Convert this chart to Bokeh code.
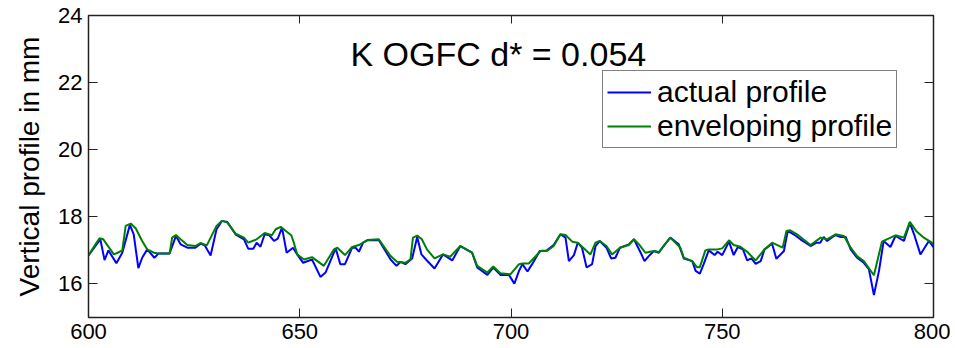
from bokeh.plotting import figure
from bokeh.models import LinearAxis, FixedTicker, Label, Range1d, CustomJSTickFormatter
from bokeh.embed import file_html
from bokeh.resources import INLINE

x_ticks = [600, 650, 700, 750, 800]
y_ticks = [16, 18, 20, 22, 24]

actual_x = [600.0, 602.8, 603.8, 604.7, 606.6, 608.0, 609.8, 610.7, 611.8, 612.7, 613.9, 615.6, 616.6,
            619.2, 620.7, 621.8, 623.4, 625.3, 626.5, 627.5, 628.9, 630.3, 631.6, 632.8, 634.8, 636.8,
            637.8, 639.0, 639.8, 640.7, 641.7, 642.8, 643.9, 644.8, 645.8, 646.9, 648.4, 649.4, 650.8,
            652.9, 654.9, 656.1, 658.5, 659.6, 660.7, 662.4, 663.2, 664.0, 665.0, 666.0, 668.7, 671.5,
            672.9, 673.9, 675.0, 676.6, 677.8, 678.8, 680.1, 681.9, 683.9, 686.1, 688.0, 690.8, 692.0,
            694.4, 695.8, 697.5, 699.5, 700.8, 701.9, 702.7, 703.9, 705.0, 706.8, 708.5, 710.1, 711.7,
            712.9, 713.7, 714.9, 715.8, 716.8, 717.9, 719.2, 720.0, 721.0, 722.6, 723.7, 724.7, 725.8,
            727.9, 729.1, 730.7, 731.6, 732.6, 733.8, 735.0, 736.1, 737.7, 739.7, 740.9, 742.9, 743.7,
            744.7, 745.6, 746.8, 748.2, 748.9, 750.0, 751.6, 752.7, 753.7, 754.9, 755.9, 756.9, 757.9,
            759.1, 760.0, 761.8, 762.8, 764.6, 765.5, 766.9, 768.5, 770.9, 772.3, 773.2, 774.0, 774.8,
            776.8, 778.0, 779.2, 780.4, 781.9, 783.5, 784.7, 785.9, 787.1, 788.2, 789.8, 791.0, 793.0,
            794.4, 795.4, 796.9, 798.9, 800.0]
actual_y = [16.85, 17.33, 16.71, 17.00, 16.62, 16.93, 17.76, 17.48, 16.47, 16.78, 17.03, 16.78, 16.91,
            16.91, 17.43, 17.18, 17.08, 17.08, 17.20, 17.15, 16.85, 17.63, 17.88, 17.85, 17.48, 17.33,
            17.05, 17.05, 17.23, 17.11, 17.48, 17.45, 17.28, 17.35, 17.68, 16.93, 17.08, 16.88, 16.63,
            16.73, 16.21, 16.34, 17.06, 16.59, 16.59, 17.08, 17.08, 16.96, 17.23, 17.30, 17.31, 16.73,
            16.54, 16.66, 16.59, 16.76, 17.40, 16.88, 16.70, 16.46, 16.88, 16.70, 17.13, 16.93, 16.49,
            16.27, 16.49, 16.27, 16.27, 16.01, 16.39, 16.59, 16.37, 16.59, 16.98, 17.00, 17.16, 17.48,
            17.38, 16.68, 16.86, 17.23, 17.08, 16.49, 16.59, 17.13, 17.28, 17.08, 16.76, 16.78, 17.08,
            17.18, 17.33, 16.93, 16.68, 16.83, 16.98, 16.93, 17.13, 17.38, 17.18, 16.76, 16.68, 16.39,
            16.31, 16.59, 17.00, 16.86, 16.96, 16.86, 17.26, 16.86, 17.10, 17.03, 16.70, 16.76, 16.60,
            16.68, 17.03, 17.20, 16.75, 16.98, 17.58, 17.48, 17.33, 17.13, 17.23, 17.23, 17.40, 17.28,
            17.46, 17.40, 17.40, 17.03, 16.78, 16.63, 16.44, 15.67, 16.39, 17.28, 17.10, 17.43, 17.28,
            17.82, 17.48, 16.88, 17.28, 17.10]

env_x = [600.0, 601.5, 602.6, 603.5, 604.5, 606.0, 606.9, 608.0, 608.8, 610.0, 611.2, 612.7, 613.9,
         615.5, 616.6, 619.2, 619.8, 620.7, 621.8, 623.4, 625.3, 626.5, 628.0, 630.3, 631.6, 632.9,
         634.8, 636.8, 637.8, 639.8, 641.7, 643.4, 644.3, 645.5, 646.7, 648.0, 648.6, 649.4, 651.0,
         652.9, 655.7, 658.1, 658.9, 660.7, 662.4, 664.0, 666.0, 668.7, 671.5, 673.0, 675.0, 676.2,
         676.8, 677.8, 678.9, 680.1, 681.9, 683.9, 685.6, 688.0, 690.8, 692.0, 694.4, 695.8, 697.5,
         699.9, 701.9, 702.7, 704.2, 707.0, 708.5, 710.1, 711.7, 712.9, 714.5, 715.8, 717.1, 718.8,
         720.0, 721.0, 722.6, 723.9, 725.8, 727.9, 729.1, 730.3, 731.8, 733.8, 735.0, 737.7, 740.1,
         740.9, 742.9, 744.0, 744.7, 746.0, 746.8, 748.9, 750.0, 751.6, 752.7, 754.3, 755.9, 757.9,
         760.0, 761.8, 764.3, 765.2, 766.1, 767.7, 770.9, 773.3, 774.8, 776.8, 778.8, 780.4, 781.9,
         783.5, 785.9, 787.8, 791.0, 793.0, 794.4, 795.9, 797.7, 800.0]
env_y = [16.85, 17.15, 17.36, 17.33, 17.15, 16.88, 16.93, 17.00, 17.73, 17.80, 17.65, 17.28, 17.03,
         16.93, 16.91, 16.91, 17.38, 17.46, 17.33, 17.16, 17.13, 17.22, 17.15, 17.73, 17.88, 17.83,
         17.50, 17.38, 17.23, 17.33, 17.52, 17.45, 17.63, 17.70, 17.58, 17.45, 17.23, 16.88, 16.73,
         16.80, 16.54, 17.03, 17.08, 16.86, 17.10, 17.16, 17.31, 17.33, 16.83, 16.66, 16.63, 16.73,
         17.38, 17.44, 17.33, 17.03, 16.76, 16.88, 16.81, 17.13, 16.93, 16.54, 16.34, 16.52, 16.32,
         16.29, 16.59, 16.61, 16.61, 16.98, 16.98, 17.13, 17.48, 17.46, 17.26, 17.23, 17.08, 16.88,
         17.23, 17.28, 17.13, 16.88, 17.08, 17.16, 17.33, 17.18, 16.93, 16.98, 16.95, 17.38, 17.08,
         16.78, 16.68, 16.50, 16.50, 17.00, 17.03, 17.03, 17.06, 17.30, 17.16, 17.11, 16.96, 16.70,
         17.03, 17.23, 17.08, 17.58, 17.60, 17.48, 17.16, 17.38, 17.33, 17.48, 17.43, 17.08, 16.83,
         16.68, 16.26, 17.26, 17.45, 17.38, 17.85, 17.58, 17.38, 17.20]

FONT = "Liberation Sans"

p = figure(width=950, height=348, x_range=Range1d(600, 800), y_range=Range1d(15, 24),
           output_backend="svg", toolbar_location=None,
           min_border_left=88, min_border_right=17, min_border_top=15, min_border_bottom=31)
p.xgrid.visible = False
p.ygrid.visible = False
p.outline_line_color = "#222222"
p.outline_line_width = 1.5
p.background_fill_color = "white"
p.border_fill_color = "white"

p.line(actual_x, actual_y, line_color="#0000FF", line_width=2, legend_label="actual profile")
p.line(env_x, env_y, line_color="#008000", line_width=2, legend_label="enveloping profile")

for ax in (p.xaxis[0], p.yaxis[0]):
    ax.major_tick_in = 9
    ax.major_tick_out = 0
    ax.minor_tick_line_color = None
    ax.axis_line_color = "#222222"
    ax.major_tick_line_color = "#222222"
    ax.major_label_text_font = FONT
    ax.major_label_text_font_size = "22px"
    ax.major_label_text_color = "black"

p.xaxis.ticker = FixedTicker(ticks=x_ticks)
p.yaxis.ticker = FixedTicker(ticks=y_ticks)
p.xaxis.major_label_standoff = 6
p.yaxis.major_label_standoff = 6
p.yaxis.axis_label = "Vertical profile in mm"
p.yaxis.axis_label_text_font = FONT
p.yaxis.axis_label_text_font_size = "28px"
p.yaxis.axis_label_text_font_style = "normal"
p.yaxis.axis_label_text_color = "black"
p.yaxis.axis_label_standoff = 10

blank = CustomJSTickFormatter(code="return ''")
top = LinearAxis(ticker=FixedTicker(ticks=x_ticks), formatter=blank,
                 major_tick_in=8, major_tick_out=0, minor_tick_line_color=None,
                 major_label_text_font_size="0px", major_label_standoff=0,
                 axis_line_color="#222222", major_tick_line_color="#222222")
right = LinearAxis(ticker=FixedTicker(ticks=y_ticks), formatter=blank,
                   major_tick_in=9, major_tick_out=0, minor_tick_line_color=None,
                   major_label_text_font_size="0px", major_label_standoff=0,
                   axis_line_color="#222222", major_tick_line_color="#222222")
p.add_layout(top, "above")
p.add_layout(right, "right")

p.add_layout(Label(x=697, y=22.86, text="K OGFC d* = 0.054", text_align="center",
                   text_baseline="alphabetic", text_font=FONT, text_font_size="34px",
                   text_color="black"))

lg = p.legend[0]
lg.location = (514, 169)
lg.label_text_font = FONT
lg.label_text_font_size = "30px"
lg.label_text_color = "black"
lg.label_height = 30
lg.glyph_height = 30
lg.glyph_width = 44
lg.label_standoff = 6
lg.padding = 4
lg.spacing = 0
lg.margin = 0
lg.border_line_color = "black"
lg.border_line_width = 1
lg.background_fill_color = "white"
lg.background_fill_alpha = 1.0

open("out.html", "w").write(file_html(p, INLINE))
